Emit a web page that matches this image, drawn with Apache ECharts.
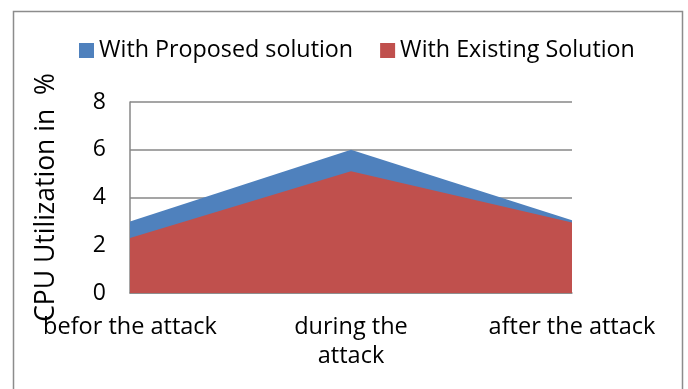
<!DOCTYPE html>
<html>
<head>
<meta charset="utf-8">
<script src="https://cdn.jsdelivr.net/npm/echarts@6/dist/echarts.min.js"></script>
<style>
  html, body { margin: 0; padding: 0; background: #ffffff; }
  #chart { width: 688px; height: 389px; }
</style>
</head>
<body>
<div id="chart"></div>
<script>
// Periods measured
const categories = ['befor the attack', 'during the attack', 'after the attack'];
// CPU utilisation (%) per period
const proposedValues = [3.0, 6.0, 3.05];
const existingValues = [2.3, 5.1, 2.95];
// Value axis
const yMin = 0;
const yMax = 8;
const yStep = 2;

const FONT = '"Open Sans", "Noto Sans", sans-serif';
const GRID_COLOR = '#878787';

const chart = echarts.init(document.getElementById('chart'), null, { renderer: 'canvas' });

chart.setOption({
  animation: false,
  backgroundColor: '#ffffff',
  color: ['#4F81BD', '#C0504D'],
  graphic: [{
    type: 'rect',
    shape: { x: 13.5, y: 11.5, width: 669, height: 390 },
    style: { fill: 'none', stroke: '#8c8c8c', lineWidth: 1.5 },
    silent: true
  }],
  legend: {
    top: 34,
    left: 74,
    itemWidth: 15,
    itemHeight: 15,
    itemGap: 27,
    icon: 'rect',
    textStyle: { fontFamily: FONT, fontSize: 23.3, color: '#000000' },
    data: ['With Proposed solution', 'With Existing Solution']
  },
  grid: { left: 130, right: 116, top: 102, bottom: 96, containLabel: false },
  xAxis: {
    type: 'category',
    data: categories,
    boundaryGap: false,
    axisLine: { show: true, lineStyle: { color: GRID_COLOR, width: 1.5 } },
    axisTick: { show: false },
    axisLabel: {
      fontFamily: FONT,
      fontSize: 23.5,
      color: '#000000',
      margin: 20,
      lineHeight: 29,
      interval: 0,
      formatter: function (v) { return v === 'during the attack' ? 'during the\nattack' : v; }
    },
    splitLine: { show: false }
  },
  yAxis: {
    type: 'value',
    min: yMin,
    max: yMax,
    interval: yStep,
    name: 'CPU Utilization in  %',
    nameLocation: 'middle',
    nameGap: 70,
    nameRotate: 90,
    nameTextStyle: { fontFamily: FONT, fontSize: 26.5, color: '#000000' },
    axisLine: { show: true, lineStyle: { color: GRID_COLOR, width: 1.5 } },
    axisTick: { show: false },
    axisLabel: { fontFamily: FONT, fontSize: 23, color: '#000000', margin: 24 },
    splitLine: { show: true, lineStyle: { color: GRID_COLOR, width: 1.5 } }
  },
  series: [
    {
      name: 'With Proposed solution',
      type: 'line',
      data: proposedValues,
      symbol: 'none',
      lineStyle: { width: 0 },
      areaStyle: { color: '#4F81BD', opacity: 1 },
      z: 2
    },
    {
      name: 'With Existing Solution',
      type: 'line',
      data: existingValues,
      symbol: 'none',
      lineStyle: { width: 0 },
      areaStyle: { color: '#C0504D', opacity: 1 },
      z: 3
    }
  ]
});
</script>
</body>
</html>
